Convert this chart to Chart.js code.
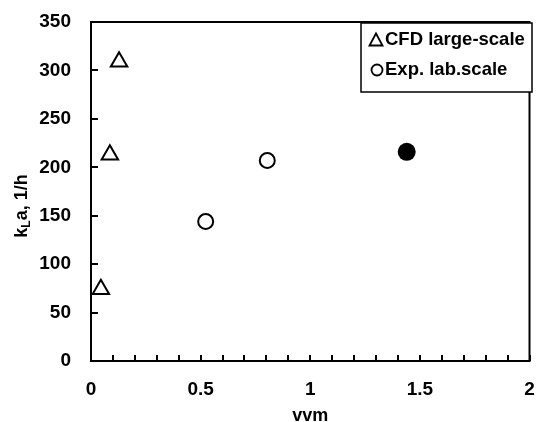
<!DOCTYPE html>
<html>
<head>
<meta charset="utf-8">
<script src="https://cdn.jsdelivr.net/npm/chart.js@4.4.1/dist/chart.umd.min.js"></script>
<style>
  html, body { margin: 0; padding: 0; background: #fff; }
  #wrap { width: 541px; height: 422px; position: relative; }
</style>
</head>
<body>
<div id="wrap"><canvas id="c" width="541" height="422"></canvas></div>
<script>
// ---- data ----
const cfdVvm = [0.045, 0.086, 0.128];
const cfdKla = [74, 213, 309];
const expVvm = [0.523, 0.804];
const expKla = [144, 207];
const filledVvm = [1.44];
const filledKla = [216];
const legendLabels = ['CFD large-scale', 'Exp. lab.scale'];
const xTickLabels = ['0', '0.5', '1', '1.5', '2'];
const yTickLabels = ['0', '50', '100', '150', '200', '250', '300', '350'];
const xTitle = 'vvm';
const yTitleParts = ['k', 'L', 'a, 1/h'];

const FONT = '"Liberation Sans", Arial, sans-serif';

function pts(xs, ys) { return xs.map((x, i) => ({ x: x, y: ys[i] })); }
function noPad(s) { s.paddingTop = 0; s.paddingBottom = 0; s.paddingLeft = 0; s.paddingRight = 0; }

const framePlugin = {
  id: 'frame',
  afterDraw(chart) {
    const ctx = chart.ctx;
    const a = chart.chartArea;
    const xs = chart.scales.x, ys = chart.scales.y;
    ctx.save();
    ctx.strokeStyle = '#000';
    ctx.lineWidth = 2;
    ctx.strokeRect(a.left, a.top, a.right - a.left, a.bottom - a.top);
    // y ticks (inside)
    yTickLabels.forEach(t => {
      const p = Math.round(ys.getPixelForValue(parseFloat(t)));
      ctx.beginPath(); ctx.moveTo(a.left, p); ctx.lineTo(a.left + 7, p); ctx.stroke();
    });
    // x minor ticks every 0.1 (inside)
    for (let i = 0; i <= 20; i++) {
      const p = Math.round(xs.getPixelForValue(i / 10));
      ctx.beginPath(); ctx.moveTo(p, a.bottom); ctx.lineTo(p, a.bottom - 6); ctx.stroke();
    }
    // x title
    ctx.fillStyle = '#000';
    ctx.font = 'bold 18px ' + FONT;
    ctx.textAlign = 'center';
    ctx.textBaseline = 'alphabetic';
    ctx.fillText(xTitle, (a.left + a.right) / 2, 421);
    // y title with subscript
    ctx.translate(27, 206);
    ctx.rotate(-Math.PI / 2);
    ctx.textAlign = 'left';
    ctx.textBaseline = 'alphabetic';
    const big = 'bold 18px ' + FONT, small = 'bold 12px ' + FONT;
    ctx.font = big; const w0 = ctx.measureText(yTitleParts[0]).width;
    const w2 = ctx.measureText(yTitleParts[2]).width;
    ctx.font = small; const w1 = ctx.measureText(yTitleParts[1]).width;
    let x0 = -(w0 + w1 + w2) / 2;
    ctx.font = big; ctx.fillText(yTitleParts[0], x0, 0); x0 += w0;
    ctx.font = small; ctx.fillText(yTitleParts[1], x0, 3); x0 += w1;
    ctx.font = big; ctx.fillText(yTitleParts[2], x0, 0);
    ctx.restore();

    // legend box
    ctx.save();
    const bx = 361, by = 23, bw = 171, bh = 69;
    ctx.fillStyle = '#fff';
    ctx.fillRect(bx, by, bw, bh);
    ctx.strokeStyle = '#000';
    ctx.lineWidth = 1.5;
    ctx.strokeRect(bx, by, bw, bh);
    ctx.lineWidth = 1.8;
    const cx = 376;
    let cy = 40;
    ctx.beginPath();
    ctx.moveTo(cx, cy - 6.5); ctx.lineTo(cx + 6.5, cy + 5.5); ctx.lineTo(cx - 6.5, cy + 5.5); ctx.closePath();
    ctx.stroke();
    cy = 70;
    ctx.beginPath(); ctx.arc(cx + 1, cy, 5.5, 0, Math.PI * 2); ctx.stroke();
    ctx.fillStyle = '#000';
    ctx.font = 'bold 18.5px ' + FONT;
    ctx.textAlign = 'left';
    ctx.textBaseline = 'middle';
    ctx.fillText(legendLabels[0], 385, 40);
    ctx.fillText(legendLabels[1], 385, 70);
    ctx.restore();
  }
};

new Chart(document.getElementById('c'), {
  type: 'scatter',
  data: {
    datasets: [
      { label: legendLabels[0], data: pts(cfdVvm, cfdKla), pointStyle: 'triangle', pointRadius: 9.5, pointHoverRadius: 9.5,
        borderColor: '#000', backgroundColor: 'rgba(255,255,255,0)', pointBorderWidth: 2 },
      { label: legendLabels[1], data: pts(expVvm, expKla), pointStyle: 'circle', pointRadius: 7.5, pointHoverRadius: 7.5,
        borderColor: '#000', backgroundColor: 'rgba(255,255,255,0)', pointBorderWidth: 2 },
      { label: 'filled', data: pts(filledVvm, filledKla), pointStyle: 'circle', pointRadius: 9, pointHoverRadius: 9,
        borderColor: '#000', backgroundColor: '#000', pointBorderWidth: 0 }
    ]
  },
  options: {
    responsive: false,
    animation: false,
    events: [],
    layout: { padding: { left: 0, top: 22, right: 8, bottom: 0 } },
    plugins: { legend: { display: false }, tooltip: { enabled: false } },
    scales: {
      x: {
        type: 'linear', min: 0, max: 2,
        border: { display: false },
        grid: { display: false, drawTicks: false },
        afterBuildTicks(s) { s.ticks = xTickLabels.map(v => ({ value: parseFloat(v) })); },
        afterFit(s) { s.height = 61; noPad(s); },
        ticks: { padding: 17, color: '#000', font: { family: FONT, size: 19, weight: 'bold' },
          callback: (v) => String(v) }
      },
      y: {
        type: 'linear', min: 0, max: 350,
        border: { display: false },
        grid: { display: false, drawTicks: false },
        afterBuildTicks(s) { s.ticks = yTickLabels.map(v => ({ value: parseFloat(v) })); },
        afterFit(s) { s.width = 91; noPad(s); },
        ticks: { padding: 20, color: '#000', font: { family: FONT, size: 19, weight: 'bold' },
          callback: (v) => String(v) }
      }
    }
  },
  plugins: [framePlugin]
});
</script>
</body>
</html>
